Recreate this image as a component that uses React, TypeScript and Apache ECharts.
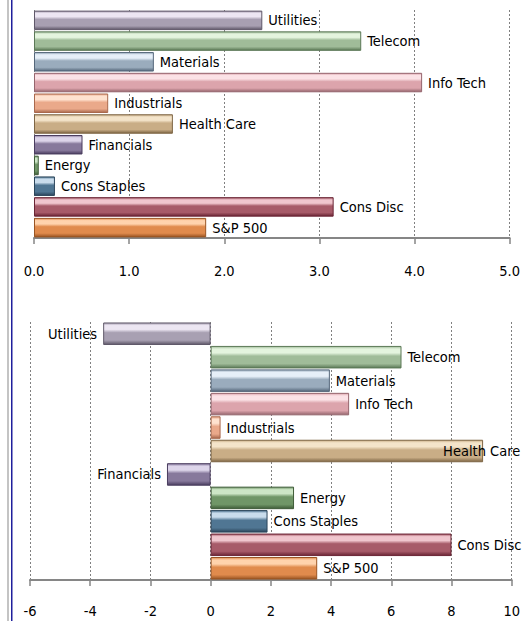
import React, { useEffect, useRef } from "react";
import * as echarts from "echarts";

const categories = ["Utilities", "Telecom", "Materials", "Info Tech", "Industrials", "Health Care", "Financials", "Energy", "Cons Staples", "Cons Disc", "S&P 500"];
const topValues = [2.4, 3.44, 1.26, 4.08, 0.78, 1.46, 0.51, 0.05, 0.22, 3.15, 1.81];
const bottomValues = [-3.57, 6.34, 3.96, 4.6, 0.33, 9.05, -1.45, 2.77, 1.89, 8.0, 3.54];
const topTicks = { min: 0, max: 5, interval: 1 };
const bottomTicks = { min: -6, max: 10, interval: 2 };

const lightColors = ["#ece6f2", "#e4f4de", "#e6eff8", "#fbe2e6", "#ffe2cf", "#f4e4ca", "#ddd5ea", "#cde6c6", "#c9dcec", "#f0c6ce", "#ffd3ad"];
const baseColors = ["#a8a0b2", "#a0bc99", "#9aacbd", "#dca4ac", "#eaa98a", "#c9ad86", "#87799c", "#709667", "#507693", "#a75b69", "#e08b4d"];
const darkColors = ["#5f5869", "#5c7957", "#55677a", "#95656d", "#a9694d", "#7e6645", "#4a3d5f", "#3f5c38", "#2b455a", "#6a2535", "#9a5523"];

const FONT = "'Liberation Sans Narrow', 'DejaVu Sans Condensed', 'Open Sans', sans-serif";
const FS = 14.5;

function gloss(i: number) {
  return new echarts.graphic.LinearGradient(0, 0, 0, 1, [
    { offset: 0, color: baseColors[i] },
    { offset: 0.12, color: lightColors[i] },
    { offset: 0.3, color: lightColors[i] },
    { offset: 0.45, color: baseColors[i] },
    { offset: 0.8, color: baseColors[i] },
    { offset: 1, color: darkColors[i] },
  ]);
}

function makeData(values: number[], special?: Record<number, any>) {
  return values.map((v, i) => {
    const item: any = {
      value: v,
      itemStyle: { color: gloss(i), borderColor: darkColors[i], borderWidth: 1 },
      label: { position: v < 0 ? "left" : "right" },
    };
    if (special && special[i]) item.label = { ...item.label, ...special[i] };
    return item;
  });
}

function xAxisCfg(gridIndex: number, t: { min: number; max: number; interval: number }, fmt: (v: number) => string, margin: number) {
  return {
    type: "value",
    gridIndex,
    min: t.min,
    max: t.max,
    interval: t.interval,
    axisLine: { show: true, onZero: false, lineStyle: { color: "#868686", width: 2 } },
    axisTick: { show: true, length: 6, lineStyle: { color: "#868686", width: 1.5 } },
    axisLabel: { color: "#000", fontFamily: FONT, fontSize: FS, margin, formatter: fmt },
    splitLine: { show: true, lineStyle: { color: "#808080", type: [2, 2], width: 1 } },
  };
}

function yAxisCfg(gridIndex: number) {
  return {
    type: "category",
    gridIndex,
    data: categories,
    inverse: true,
    axisLine: { show: false },
    axisTick: { show: false },
    axisLabel: { show: false },
    splitLine: { show: false },
  };
}

export default function App() {
  const ref = useRef<HTMLDivElement>(null);
  useEffect(() => {
    if (!ref.current) return;
    const chart = echarts.init(ref.current, null, { renderer: "svg" });
    const labelBase = {
      show: true,
      formatter: (p: any) => p.name,
      color: "#000",
      fontFamily: FONT,
      fontSize: FS,
      distance: 6,
    };
    chart.setOption({
      animation: false,
      backgroundColor: "#fff",
      grid: [
        { left: 34, right: 11, top: 10, height: 228 },
        { left: 30, right: 11, top: 322, height: 258 },
      ],
      xAxis: [
        xAxisCfg(0, topTicks, (v: number) => v.toFixed(1), 25),
        xAxisCfg(1, bottomTicks, (v: number) => String(v), 23),
      ],
      yAxis: [yAxisCfg(0), yAxisCfg(1)],
      series: [
        {
          type: "bar",
          xAxisIndex: 0,
          yAxisIndex: 0,
          barCategoryGap: "6%",
          data: makeData(topValues),
          label: labelBase,
        },
        {
          type: "bar",
          xAxisIndex: 1,
          yAxisIndex: 1,
          barCategoryGap: "4%",
          data: makeData(bottomValues, { 5: { position: "right", offset: [-46, 0] } }),
          label: labelBase,
        },
      ],
      graphic: [
        { type: "rect", left: 7, top: 0, shape: { width: 2, height: 621 }, style: { fill: "#c4c4c4" } },
        { type: "rect", left: 11, top: 0, shape: { width: 1.5, height: 621 }, style: { fill: "#1f1f9c" } },
      ],
    });
    return () => chart.dispose();
  }, []);
  return (
    <div
      ref={ref}
      style={{ position: "absolute", left: 0, top: 0, width: 523, height: 621 }}
    />
  );
}
